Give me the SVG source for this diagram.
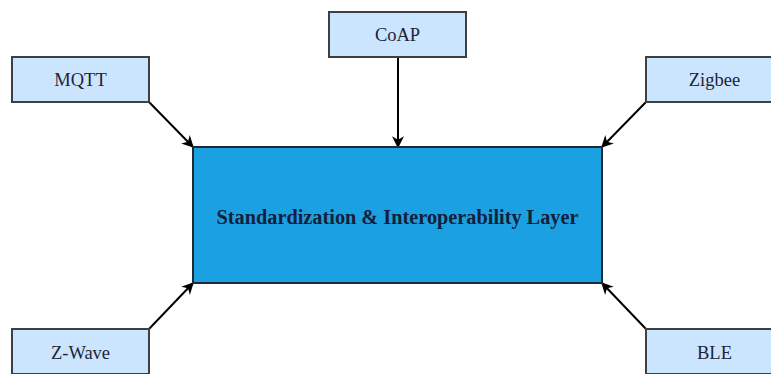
<svg xmlns="http://www.w3.org/2000/svg" width="771" height="374" viewBox="0 0 771 374">
<defs>
<style>
.n{fill:#cce5ff;stroke:#3c4044;stroke-width:2}
.t{font-family:"Liberation Serif","Times New Roman",serif;font-size:18.5px;fill:#1c2436;text-anchor:middle;dominant-baseline:central}
.c{stroke:#000;stroke-width:2;fill:none;marker-end:url(#ah)}
</style>
<marker id="ah" viewBox="0 0 10 10" refX="9" refY="5" markerWidth="12" markerHeight="12" markerUnits="userSpaceOnUse" orient="auto" overflow="visible">
<path d="M0,0 L10,5 L0,10 L3,5 Z" fill="#000"/>
</marker>
</defs>
<rect width="771" height="374" fill="#fff"/>
<g id="connectors">
<path class="c" d="M149,102 L193,147"/>
<path class="c" d="M398,57 L398,147"/>
<path class="c" d="M646,102 L602,147"/>
<path class="c" d="M149,329 L193,283"/>
<path class="c" d="M646,329 L602,283"/>
</g>
<g id="main">
<rect x="193" y="147" width="409" height="136" fill="#1ba1e2" stroke="#1e2a36" stroke-width="2"/>
<text x="397.5" y="217" font-family="Liberation Serif,'Times New Roman',serif" font-size="20.3" font-weight="bold" fill="#14203a" text-anchor="middle" dominant-baseline="central">Standardization &amp; Interoperability Layer</text>
</g>
<g id="mqtt"><rect class="n" x="12" y="57" width="137" height="45"/><text class="t" x="80.5" y="80">MQTT</text></g>
<g id="coap"><rect class="n" x="329" y="12" width="137" height="45"/><text class="t" x="397.5" y="35">CoAP</text></g>
<g id="zigbee"><rect class="n" x="646" y="57" width="137" height="45"/><text class="t" x="714.5" y="80">Zigbee</text></g>
<g id="zwave"><rect class="n" x="12" y="329" width="137" height="45"/><text class="t" x="80.5" y="353">Z-Wave</text></g>
<g id="ble"><rect class="n" x="646" y="329" width="137" height="45"/><text class="t" x="714.5" y="353">BLE</text></g>
</svg>
